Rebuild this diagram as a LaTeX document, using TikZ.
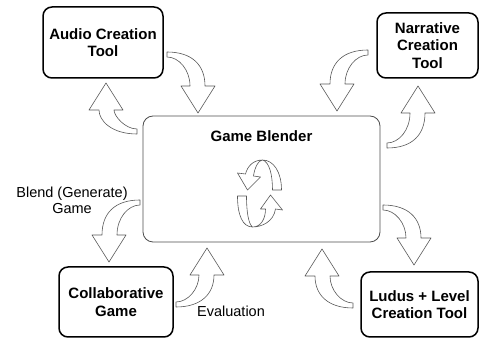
\documentclass[tikz,border=0pt]{standalone}
\usepackage{fontspec}
\setmainfont{Liberation Sans}
\tikzset{
  bend arrow/.pic={
    \draw[arrow line] (0,3) .. controls (25,3) and (38,-10) .. (38,-#1)
      -- (48,-#1) -- (31,-#1-27) -- (14,-#1) -- (23,-#1)
      .. controls (23,-15) and (12,-2) .. (0,-2) -- cycle;
  }
}
\begin{document}
\begin{tikzpicture}[
  x=1pt, y=1pt,
  tool/.style = {draw, line width=1.5pt, rounded corners=9pt, align=center,
    font=\bfseries\fontsize{15}{17.5}\selectfont},
  blend box/.style = {draw=black!70, line width=0.8pt, rounded corners=10pt},
  arrow line/.style = {draw=black!65, line width=0.6pt, fill=white, line join=round},
  caption/.style = {align=center, inner sep=0pt, font=\fontsize{14.5}{16.5}\selectfont}
    ]
  \useasboundingbox (0,0) rectangle (479,339);
  \node (blender) [blend box, minimum width=237pt, minimum height=126pt] at (261.5,160) {};
  \node (title) [anchor=base, font=\bfseries\fontsize{15}{17.5}\selectfont]
    at ([yshift=-26pt]blender.north) {Game Blender};
  \node (audio) [tool, minimum width=120pt, minimum height=71pt] at (103,296.5) {Audio Creation\\Tool};
  \node (narrative) [tool, minimum width=101pt, minimum height=65pt] at (427.5,293.5) {Narrative\\Creation\\Tool};
  \node (collab) [tool, minimum width=114pt, minimum height=70pt] at (116,37) {Collaborative\\Game};
  \node (ludus) [tool, minimum width=117pt, minimum height=65pt] at (419.5,34.5) {Ludus + Level\\Creation Tool};
  \node (blend) [caption] at (72,138.5) {Blend (Generate)\\Game};
  \node (evaluation) [caption, anchor=base] at (231,22) {Evaluation};

  \pic at (167,284) {bend arrow=31};
  \pic [xscale=-1] at (368,286) {bend arrow=31};
  \pic [rotate=180] at (137,208) {bend arrow=21};
  \pic [yscale=-1] at (387,194) {bend arrow=32};
  \pic [xscale=-1] at (140,136) {bend arrow=32};
  \pic [yscale=-1] at (176,35) {bend arrow=29};
  \pic [rotate=180] at (353,34) {bend arrow=29};
  \pic at (383,131) {bend arrow=30};

  \begin{scope}[shift={(blender.center)}]
    \draw[arrow line] (20,-11) .. controls (20,7) and (12,19) .. (1,19)
      .. controls (-8,19) and (-14,13) .. (-16,5) -- (-24,6) -- (-14,-11)
      -- (-1,2) -- (-8,3) .. controls (-7,11) and (-3,19) .. (1,19)
      .. controls (8,17) and (11,4) .. (11,-11) -- cycle;
    \draw[arrow line] (-24,-17) .. controls (-24,-36) and (-19,-48) .. (-9,-48)
      .. controls (0,-48) and (4,-39) .. (4,-30) -- (-1,-30) -- (9,-16)
      -- (21,-31) -- (14,-30) .. controls (12,-43) and (0,-48) .. (-9,-48)
      .. controls (-13,-45) and (-15,-33) .. (-15,-17) -- cycle;
  \end{scope}
\end{tikzpicture}
\end{document}
